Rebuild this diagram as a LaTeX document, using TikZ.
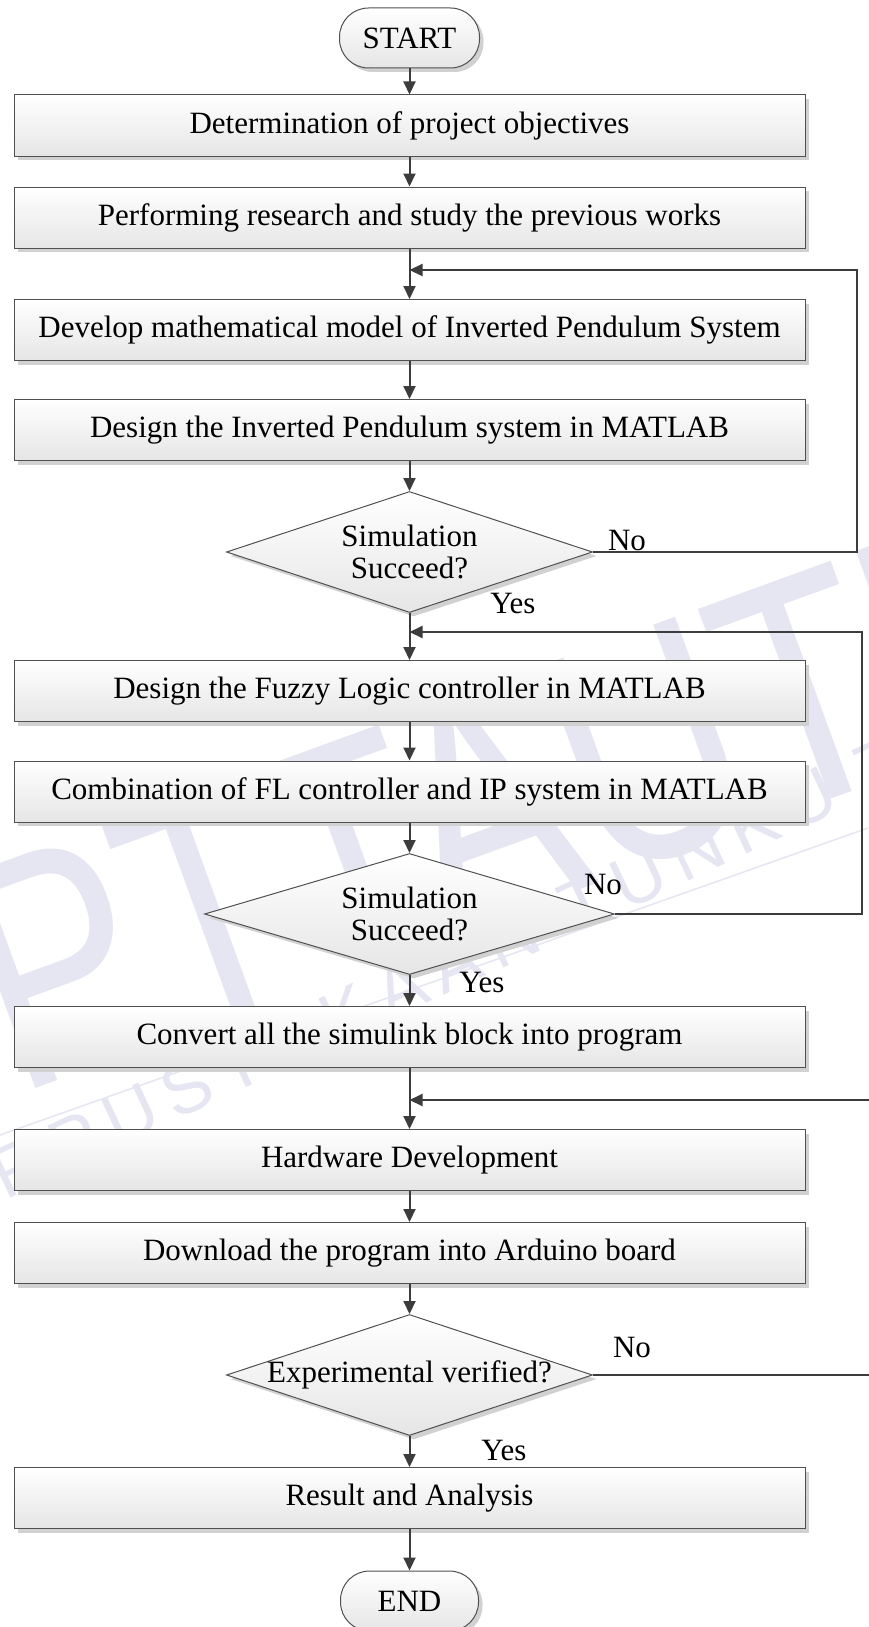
\documentclass[tikz,border=0pt]{standalone}
\usepackage{fontspec}
\setmainfont{Liberation Serif}
\newfontfamily\wmfont{Liberation Sans}
\usetikzlibrary{shapes.geometric,arrows.meta,shadows}
\definecolor{lc}{HTML}{3C3C3C}
\definecolor{bc}{HTML}{505050}
\definecolor{wm}{RGB}{230,230,242}
\newcommand\bxfont{\fontsize{31}{32}\selectfont}
\begin{document}
\begin{tikzpicture}[x=1pt,y=-1pt,
  shade/.style={top color=white, bottom color=black!10},
  shad/.style={drop shadow={shadow xshift=4pt, shadow yshift=-4pt, fill=black!18, opacity=1}},
  procbox/.style={rectangle, draw=bc, line width=1pt, minimum width=791pt, minimum height=61pt, inner sep=0pt, shade, shad, font=\bxfont},
  term/.style={rectangle, rounded corners=29pt, draw=bc, line width=1pt, minimum width=140pt, minimum height=60pt, inner sep=0pt, shade, shad, font=\bxfont},
  dia/.style={diamond, draw=bc, line width=1pt, minimum width=#1, minimum height=121pt, inner sep=0pt, shade, shad},
  lbl/.style={font=\bxfont, inner sep=0pt},
  arr/.style={draw=lc, line width=2pt, -{Triangle[length=13pt,width=12pt]}},
  wmtext/.style={text=wm, inner sep=0pt}
]
\useasboundingbox (0,0) rectangle (868,1627);
\fill[white] (0,0) rectangle (868,1627);
% watermark
\node[wmtext, rotate=20, yscale=1.3, font={\wmfont\fontsize{250}{250}\selectfont}] (wm1) at (610,762) {PTTAUTHM};
\node[wmtext, rotate=25, font={\wmfont\fontsize{72}{72}\selectfont}] (wm2) at (620,886) {P\,E\,R\,P\,U\,S\,T\,A\,K\,A\,A\,N\, T\,U\,N\,K\,U\, T\,U\,N\, A\,M\,I\,N\,A\,H};
\coordinate (wl1) at (0,1135);
\coordinate (wl2) at (868,828);
\draw[wm, line width=1.5pt] (wl1) -- (wl2);
% nodes
\node[term] (start) at (409.5,38) {START};
\node[procbox] (b1) at (409.5,125.5) {Determination of project objectives};
\node[procbox] (b2) at (409.5,217.5) {Performing research and study the previous works};
\node[procbox] (b3) at (409.5,330) {Develop mathematical model of Inverted Pendulum System};
\node[procbox] (b4) at (409.5,430) {Design the Inverted Pendulum system in MATLAB};
\node[dia=366pt] (d1) at (409.5,552) {};
\node[lbl, align=center] (d1t) at (409.5,552) {Simulation\\Succeed?};
\node[procbox] (b5) at (409.5,691) {Design the Fuzzy Logic controller in MATLAB};
\node[procbox] (b6) at (409.5,791.5) {Combination of FL controller and IP system in MATLAB};
\node[dia=410pt] (d2) at (409.5,914) {};
\node[lbl, align=center] (d2t) at (409.5,914) {Simulation\\Succeed?};
\node[procbox] (b7) at (409.5,1037) {Convert all the simulink block into program};
\node[procbox] (b8) at (409.5,1160) {Hardware Development};
\node[procbox] (b9) at (409.5,1253) {Download the program into Arduino board};
\node[dia=366pt] (d3) at (409.5,1375) {};
\node[lbl] (d3t) at (409.5,1375) {Experimental verified?};
\node[procbox] (b10) at (409.5,1498) {Result and Analysis};
\node[term, minimum width=138pt] (end) at (409.5,1601) {END};
% labels
\node[lbl] (no1) at (627,540) {No};
\node[lbl] (yes1) at (513,603) {Yes};
\node[lbl] (no2) at (603,884) {No};
\node[lbl] (yes2) at (482,982) {Yes};
\node[lbl] (no3) at (632,1347) {No};
\node[lbl] (yes3) at (504,1450) {Yes};
% coordinates
\coordinate (j1) at (409.5,270);
\coordinate (j2) at (409.5,632);
\coordinate (j3) at (409.5,1100);
\coordinate (c1a) at (857,552);
\coordinate (c1b) at (857,270);
\coordinate (c2a) at (862,914);
\coordinate (c2b) at (862,632);
\coordinate (c3a) at (885,1375);
\coordinate (c3b) at (885,1100);
% connectors
\draw[arr] (start) -- (b1);
\draw[arr] (b1) -- (b2);
\draw[arr] (b2) -- (b3);
\draw[arr] (b3) -- (b4);
\draw[arr] (b4) -- (d1);
\draw[arr] (d1) -- (b5);
\draw[arr] (b5) -- (b6);
\draw[arr] (b6) -- (d2);
\draw[arr] (d2) -- (b7);
\draw[arr] (b7) -- (b8);
\draw[arr] (b8) -- (b9);
\draw[arr] (b9) -- (d3);
\draw[arr] (d3) -- (b10);
\draw[arr] (b10) -- (end);
\draw[arr] (d1.east) -- (c1a) -- (c1b) -- (j1);
\draw[arr] (d2.east) -- (c2a) -- (c2b) -- (j2);
\draw[arr] (d3.east) -- (c3a) -- (c3b) -- (j3);
\end{tikzpicture}
\end{document}
